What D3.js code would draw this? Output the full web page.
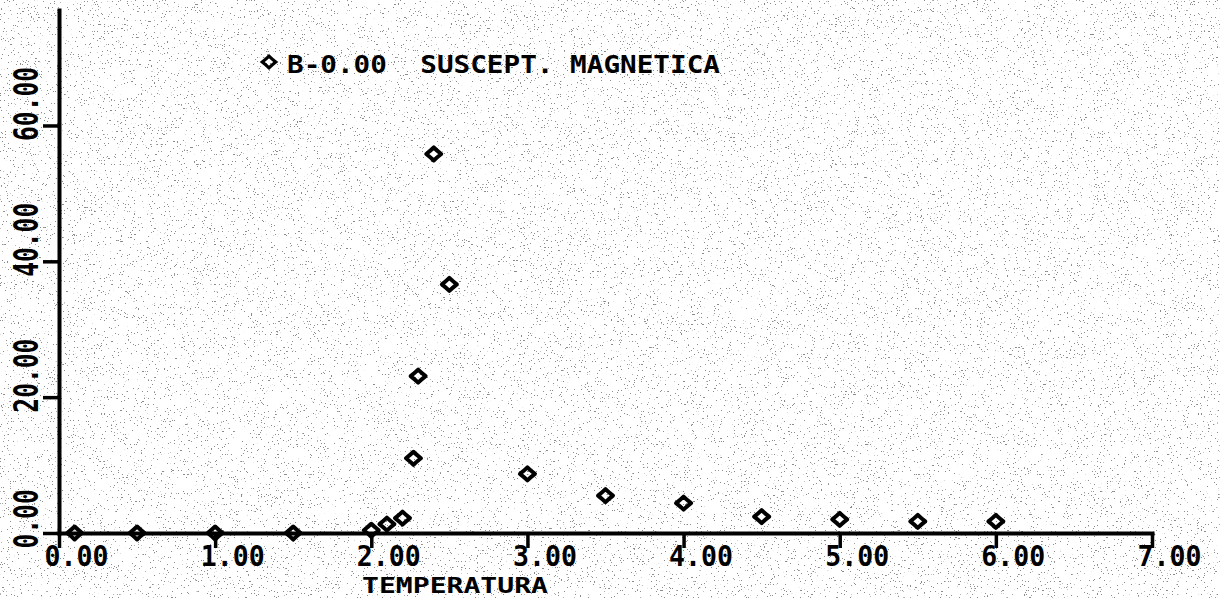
<!DOCTYPE html>
<html>
<head>
<meta charset="utf-8">
<script src="https://cdn.jsdelivr.net/npm/d3@7"></script>
<style>
  html, body { margin: 0; padding: 0; background: #fff; }
  svg { display: block; }
  text { font-family: "DejaVu Sans Mono", "Liberation Mono", monospace; font-weight: bold; fill: #000; }
</style>
</head>
<body>
<div id="chart"></div>
<script>
// Temperature vs magnetic susceptibility, B = 0
const temperatura = [0.1, 0.5, 1.0, 1.5, 2.0, 2.1, 2.2, 2.27, 2.3, 2.4, 2.5, 3.0, 3.5, 4.0, 4.5, 5.0, 5.5, 6.0];
const suscept     = [0.0, 0.0, 0.0, 0.0, 0.4, 1.3, 2.2, 11.0, 23.1, 55.8, 36.6, 8.7, 5.5, 4.4, 2.4, 2.0, 1.7, 1.7];
const xTicks = [0, 1, 2, 3, 4, 5, 6, 7];
const yTicks = [0, 20, 40, 60];
const titleText = "B-0.00\u00A0\u00A0SUSCEPT.\u00A0MAGNETICA";
const xTitle = "TEMPERATURA";

const W = 1220, H = 598;
const INK = "#000";

const svg = d3.select('#chart').append('svg')
  .attr('width', W)
  .attr('height', H);

// scanned-paper speckle
const defs = svg.append('defs');
const f = defs.append('filter').attr('id', 'speckle')
  .attr('x', 0).attr('y', 0).attr('width', '100%').attr('height', '100%');
f.append('feTurbulence')
  .attr('type', 'fractalNoise')
  .attr('baseFrequency', 0.7)
  .attr('numOctaves', 2)
  .attr('seed', 7);
f.append('feColorMatrix')
  .attr('type', 'matrix')
  .attr('values', '0 0 0 0 0  0 0 0 0 0  0 0 0 0 0  -30 0 0 0 9.2');
svg.append('rect')
  .attr('width', W).attr('height', H)
  .attr('fill', '#fff');
svg.append('rect')
  .attr('width', W).attr('height', H)
  .attr('filter', 'url(#speckle)')
  .attr('opacity', 0.45);

const x = d3.scaleLinear().domain([0, 7]).range([59, 1152]);
const y = d3.scaleLinear().domain([0, 77]).range([533, 10]);

const fmt = d3.format('.2f');

// x axis
const gx = svg.append('g')
  .attr('transform', `translate(0,${y(0)})`)
  .call(d3.axisBottom(x).tickValues(xTicks).tickSize(15).tickSizeOuter(0).tickFormat(fmt));

// y axis
const gy = svg.append('g')
  .attr('transform', `translate(${x(0)},0)`)
  .call(d3.axisLeft(y).tickValues(yTicks).tickSize(16).tickSizeOuter(0).tickFormat(fmt));

[gx, gy].forEach(g => {
  g.select('.domain').attr('stroke', INK).attr('stroke-width', 4).attr('stroke-linecap', 'square');
  g.selectAll('.tick line').attr('stroke', INK).attr('stroke-width', 3.5);
});

gx.selectAll('.tick text')
  .attr('y', 33)
  .attr('x', -15)
  .attr('dy', null)
  .attr('text-anchor', 'start')
  .attr('font-size', 29)
  .attr('textLength', d => fmt(d).length * 16)
  .attr('lengthAdjust', 'spacingAndGlyphs')
  .attr('fill', INK);

gy.selectAll('.tick text')
  .attr('x', null)
  .attr('dy', null)
  .attr('text-anchor', 'start')
  .attr('transform', 'translate(-21,15) rotate(-90)')
  .attr('font-size', 33)
  .attr('textLength', d => fmt(d).length * 14.8)
  .attr('lengthAdjust', 'spacingAndGlyphs')
  .attr('fill', INK);

// rounded diamond marker
const diamond = 'M0,-6.5 Q3,-3.5 7.5,0 Q3,3.5 0,6.5 Q-3,3.5 -7.5,0 Q-3,-3.5 0,-6.5 Z';

svg.append('g')
  .selectAll('path')
  .data(temperatura.map((t, i) => [t, suscept[i]]))
  .join('path')
  .attr('d', diamond)
  .attr('transform', d => `translate(${x(d[0])},${y(d[1])})`)
  .attr('fill', 'none')
  .attr('stroke', INK)
  .attr('stroke-width', 4)
  .attr('stroke-linejoin', 'round');

// legend / title
svg.append('path')
  .attr('d', diamond)
  .attr('transform', 'translate(269,62) scale(0.9)')
  .attr('fill', 'none')
  .attr('stroke', INK)
  .attr('stroke-width', 3.5);

svg.append('text')
  .attr('x', 287)
  .attr('y', 73)
  .attr('font-size', 25)
  .attr('textLength', 433)
  .attr('lengthAdjust', 'spacingAndGlyphs')
  .text(titleText);

svg.append('text')
  .attr('x', 362)
  .attr('y', 593)
  .attr('font-size', 22)
  .attr('textLength', 186)
  .attr('lengthAdjust', 'spacingAndGlyphs')
  .text(xTitle);
</script>
</body>
</html>
